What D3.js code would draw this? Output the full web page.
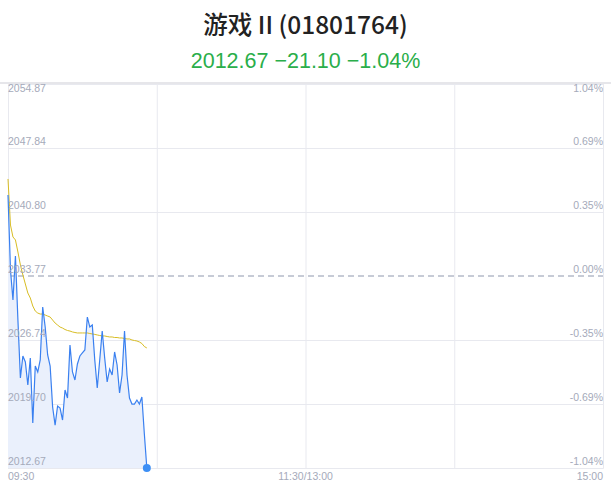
<!DOCTYPE html>
<html>
<head>
<meta charset="utf-8">
<script src="https://cdn.jsdelivr.net/npm/d3@7/dist/d3.min.js"></script>
<style>
  html, body { margin: 0; padding: 0; background: #fff; }
  svg { display: block; }
</style>
</head>
<body>
<svg id="chart" width="611" height="492"></svg>
<script>
// ---- data ----
const title = "游戏 II (01801764)";
const subtitle = "2012.67 −21.10 −1.04%";
const priceTicks = [2054.87, 2047.84, 2040.80, 2033.77, 2026.74, 2019.70, 2012.67];
const pctTicks = ["1.04%", "0.69%", "0.35%", "0.00%", "-0.35%", "-0.69%", "-1.04%"];
const prevClose = 2033.77;
const timeTicks = [0, 60, 120, 180, 240];
const timeLabels = ["09:30", "", "11:30/13:00", "", "15:00"];
const price = [
  2042.67, 2034.43, 2031.13, 2035.97, 2028.93, 2022.56, 2024.98, 2024.32, 2021.79, 2024.76,
  2017.61, 2023.88, 2023.22, 2024.54, 2030.36, 2028.16, 2025.09, 2023.88, 2019.37, 2017.39,
  2019.48, 2019.26, 2017.94, 2021.24, 2020.36, 2026.19, 2023.22, 2022.34, 2024.10, 2024.98,
  2025.31, 2025.64, 2029.26, 2028.16, 2028.38, 2024.54, 2021.46, 2024.54, 2027.72, 2024.76,
  2022.12, 2023.55, 2022.89, 2025.42, 2023.99, 2020.91, 2022.89, 2027.72, 2022.89, 2020.36,
  2019.70, 2019.70, 2020.14, 2019.70, 2020.47, 2016.40, 2012.67
];
const avgPrice = [
  2044.43, 2039.37, 2038.06, 2037.73, 2036.41, 2034.98, 2033.88, 2032.89, 2031.90, 2031.35,
  2030.47, 2029.92, 2029.70, 2029.59, 2029.59, 2029.48, 2029.37, 2029.26, 2028.93, 2028.60,
  2028.38, 2028.16, 2028.05, 2027.89, 2027.78, 2027.72, 2027.62, 2027.56, 2027.51, 2027.51,
  2027.51, 2027.51, 2027.51, 2027.45, 2027.40, 2027.35, 2027.29, 2027.23, 2027.18, 2027.18,
  2027.12, 2027.07, 2027.07, 2027.01, 2027.01, 2026.96, 2026.96, 2026.90, 2026.85, 2026.85,
  2026.74, 2026.68, 2026.63, 2026.52, 2026.35, 2026.02, 2025.86
];

// ---- layout ----
const svg = d3.select("#chart");
const L = 8, R = 603, T = 84, B = 468;
const x = d3.scaleLinear().domain([0, 240]).range([L, R]);
const y = d3.scaleLinear().domain([2012.67, 2054.87]).range([B, T]);

const sansCJK = "'Noto Sans CJK SC', 'Noto Sans', sans-serif";
const sans = "'Liberation Sans', 'DejaVu Sans', sans-serif";
const labelColor = "#a5aaba";
const gridColor = "#e8e9ef";

// title
svg.append("text").attr("x", 305.5).attr("y", 34).attr("text-anchor", "middle")
  .attr("font-family", sansCJK).attr("font-size", 24.5).attr("font-weight", 500)
  .attr("fill", "#222").text(title);
svg.append("text").attr("x", 305.5).attr("y", 68).attr("text-anchor", "middle")
  .attr("font-family", sans).attr("font-size", 21.5)
  .attr("fill", "#2aae4a").text(subtitle);

// top separator
svg.append("line").attr("x1", 0).attr("x2", 611).attr("y1", 83).attr("y2", 83)
  .attr("stroke", "#e6e6ea").attr("stroke-width", 2);

// horizontal grid via axis
const gy = svg.append("g").attr("transform", `translate(${L},0)`)
  .call(d3.axisLeft(y).tickValues(priceTicks.filter(v => v !== prevClose))
    .tickSize(-(R - L)).tickFormat(""));
gy.select(".domain").remove();
gy.selectAll(".tick line").attr("stroke", gridColor).attr("stroke-width", 1);

// vertical grid via axis
const gx = svg.append("g").attr("transform", `translate(0,${B})`)
  .call(d3.axisBottom(x).tickValues(timeTicks).tickSize(-(B - T)).tickFormat(""));
gx.select(".domain").attr("stroke", gridColor);
gx.selectAll(".tick line").attr("stroke", gridColor).attr("stroke-width", 1);

// dashed prev close line
svg.append("line").attr("x1", L).attr("x2", R).attr("y1", y(prevClose)).attr("y2", y(prevClose))
  .attr("stroke", "#8e97ad").attr("stroke-width", 1).attr("stroke-dasharray", "6,4");

// area + line
const area = d3.area().x((d, i) => x(i)).y0(B).y1(d => y(d));
svg.append("path").datum(price).attr("d", area).attr("fill", "#eaf0fc");
const line = d3.line().x((d, i) => x(i)).y(d => y(d));
svg.append("path").datum(avgPrice).attr("d", line).attr("fill", "none")
  .attr("stroke", "#d8bd24").attr("stroke-width", 1);
svg.append("path").datum(price).attr("d", line).attr("fill", "none")
  .attr("stroke", "#3a80f0").attr("stroke-width", 1.2);
svg.append("circle").attr("cx", x(price.length - 1)).attr("cy", y(price[price.length - 1]))
  .attr("r", 4).attr("fill", "#3d8ff5");

// y labels
priceTicks.forEach((v, i) => {
  const yy = i === 0 ? y(v) + 8 : y(v) - 3;
  svg.append("text").attr("x", L).attr("y", yy).attr("font-family", sans)
    .attr("font-size", 10.5).attr("fill", labelColor).text(v.toFixed(2));
  svg.append("text").attr("x", R).attr("y", yy).attr("text-anchor", "end")
    .attr("font-family", sans).attr("font-size", 10.5).attr("fill", labelColor).text(pctTicks[i]);
});

// time labels
timeTicks.forEach((t, i) => {
  if (!timeLabels[i]) return;
  const anchor = i === 0 ? "start" : (i === timeTicks.length - 1 ? "end" : "middle");
  svg.append("text").attr("x", x(t)).attr("y", 480).attr("text-anchor", anchor)
    .attr("font-family", sans).attr("font-size", 10.5).attr("fill", labelColor).text(timeLabels[i]);
});
</script>
</body>
</html>
